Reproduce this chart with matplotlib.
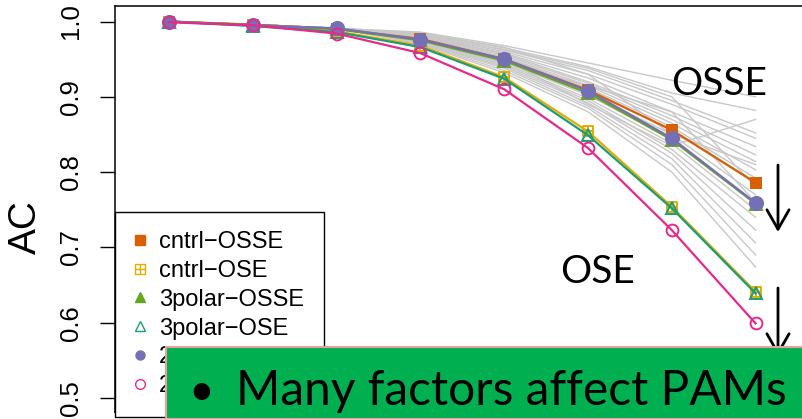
import numpy as np
import matplotlib
matplotlib.use("Agg")
import matplotlib.pyplot as plt
from matplotlib.path import Path
from matplotlib.patches import Rectangle

# forecast day index
days = [1, 2, 3, 4, 5, 6, 7, 8]

# AC for the six experiments
cntrl_osse = [1.000, 0.996, 0.990, 0.977, 0.950, 0.909, 0.856, 0.786]
cntrl_ose = [1.000, 0.995, 0.987, 0.968, 0.926, 0.854, 0.754, 0.641]
polar3_osse = [1.000, 0.995, 0.990, 0.975, 0.948, 0.905, 0.843, 0.758]
polar3_ose = [1.000, 0.994, 0.986, 0.966, 0.924, 0.849, 0.752, 0.639]
polar2_osse = [1.000, 0.995, 0.991, 0.976, 0.950, 0.908, 0.845, 0.759]
polar2_ose = [0.999, 0.995, 0.984, 0.958, 0.910, 0.832, 0.723, 0.599]

# grey background runs (values from day 4 on; days 1-3 shared)
grey_head = [1.000, 0.996, 0.991]
grey_tails = [
    [0.986, 0.968, 0.945, 0.922, 0.900],
    [0.984, 0.965, 0.940, 0.905, 0.882],
    [0.983, 0.962, 0.935, 0.895, 0.852],
    [0.982, 0.960, 0.930, 0.890, 0.845],
    [0.981, 0.958, 0.925, 0.880, 0.834],
    [0.980, 0.957, 0.920, 0.875, 0.823],
    [0.980, 0.955, 0.918, 0.870, 0.814],
    [0.979, 0.953, 0.915, 0.865, 0.803],
    [0.978, 0.952, 0.912, 0.860, 0.792],
    [0.978, 0.950, 0.910, 0.855, 0.785],
    [0.977, 0.948, 0.905, 0.850, 0.770],
    [0.976, 0.946, 0.902, 0.845, 0.760],
    [0.975, 0.944, 0.898, 0.838, 0.750],
    [0.974, 0.942, 0.895, 0.830, 0.740],
    [0.973, 0.940, 0.892, 0.825, 0.723],
    [0.972, 0.938, 0.888, 0.818, 0.706],
    [0.971, 0.935, 0.885, 0.810, 0.690],
    [0.970, 0.932, 0.880, 0.800, 0.674],
    [0.983, 0.963, 0.938, 0.900, 0.780],
    [0.985, 0.966, 0.930, 0.850, 0.810],
    [0.979, 0.950, 0.890, 0.835, 0.870],
    [0.976, 0.945, 0.915, 0.880, 0.760],
]

labels = ["cntrl\u2212OSSE", "cntrl\u2212OSE", "3polar\u2212OSSE",
          "3polar\u2212OSE", "2polar\u2212OSSE", "2polar\u2212OSE"]
colors = ["#D95F02", "#E6AB02", "#66A61E", "#1B9E77", "#7570B3", "#E7298A"]

# square with a plus inside (R pch 12)
sq_plus = Path(
    [(-1, -1), (1, -1), (1, 1), (-1, 1), (-1, -1), (0, -1), (0, 1), (-1, 0), (1, 0)],
    [Path.MOVETO, Path.LINETO, Path.LINETO, Path.LINETO, Path.CLOSEPOLY,
     Path.MOVETO, Path.LINETO, Path.MOVETO, Path.LINETO])

W, H = 802, 419
fig = plt.figure(figsize=(W / 100, H / 100), dpi=100)
ax = fig.add_axes([115 / W, 7 / H, 745 / W, 406 / H])

for tail in grey_tails:
    ax.plot(days, grey_head + tail, color="#C8C8C8", lw=1.0, zorder=1)

series = [cntrl_osse, cntrl_ose, polar3_osse, polar3_ose, polar2_osse, polar2_ose]
markers = ["s", sq_plus, "^", "^", "o", "o"]
filled = [True, False, True, False, True, False]
msizes = [7.5, 7, 8.5, 9, 9.5, 8.5]
for ys, lab, c, m, f, ms in zip(series, labels, colors, markers, filled, msizes):
    ax.plot(days, ys, color=c, lw=1.6, marker=m, ms=ms,
            mfc=c if f else "none", mec=c, mew=1.4, label=lab, zorder=3)

ax.set_xlim(0.356, 9.246)
ax.set_ylim(0.4814, 1.0206)
ax.set_yticks([0.5, 0.6, 0.7, 0.8, 0.9, 1.0])
ax.set_yticklabels(["0.5", "0.6", "0.7", "0.8", "0.9", "1.0"],
                   rotation=90, va="center", fontsize=18.5, family="Liberation Sans")
ax.tick_params(axis="y", length=11, width=1, pad=12)
ax.tick_params(axis="x", bottom=False, labelbottom=False)
for s in ax.spines.values():
    s.set_linewidth(1.1)

fig.text(26 / W, 1 - 227 / H, "AC", rotation=90, ha="center", va="center",
         fontsize=28, family="Liberation Sans")

leg = ax.legend(loc="upper left", bbox_to_anchor=(0, (412 - 211.7) / 406),
                borderaxespad=0, fancybox=False, framealpha=1, edgecolor="black",
                prop={"family": "Liberation Sans", "size": 17},
                handlelength=0.45, handletextpad=0.6, labelspacing=0.29,
                borderpad=0.82)
leg.get_frame().set_linewidth(1.0)
for line, ms in zip(leg.get_lines(), [6.5, 6.5, 7.5, 7.5, 6.5, 7.0]):
    line.set_linestyle("none")
    line.set_markersize(ms)
    line.set_markeredgewidth(1.0)

# slide annotations
fig.text(671 / W, 1 - 95 / H, "OSSE", fontsize=28, family="Lato",
         ha="left", va="baseline")
fig.text(560 / W, 1 - 283 / H, "OSE", fontsize=28, family="Lato",
         ha="left", va="baseline")
for y0, y1 in [(165, 232), (288, 356)]:
    ax.annotate("", xy=(778 / W, 1 - y1 / H), xytext=(778 / W, 1 - y0 / H),
                xycoords="figure fraction", textcoords="figure fraction",
                arrowprops=dict(arrowstyle="->,head_length=1.4,head_width=0.8",
                                lw=2, color="black", shrinkA=0, shrinkB=0))

box = Rectangle((166 / W, 0), (W - 166 + 10) / W, (419 - 346.7) / H,
                transform=fig.transFigure, facecolor="#00B050",
                edgecolor="#E6A0A0", lw=1.5, zorder=10)
fig.patches.append(box)
fig.text(188 / W, 1 - 405 / H, "\u2022", fontsize=32, family="Lato",
         ha="left", va="baseline", zorder=11)
fig.text(236 / W, 1 - 405 / H, "Many factors affect PAMs", fontsize=34.5,
         family="Lato", ha="left", va="baseline", zorder=11)

fig.savefig("out.png", dpi=100)
